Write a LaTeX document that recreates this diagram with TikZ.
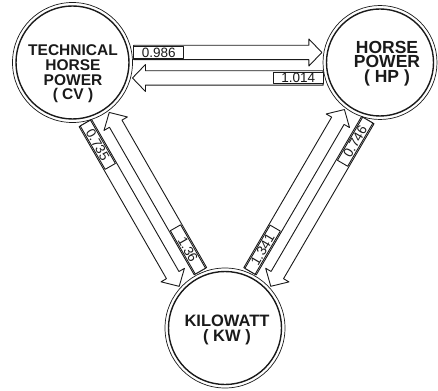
\documentclass[tikz,border=0pt]{standalone}
\usepackage{fontspec}
\setmainfont{Liberation Sans}
\usetikzlibrary{calc, positioning}
\definecolor{inkC}{HTML}{1A1A1A}
\definecolor{paperC}{HTML}{FFFFFF}
\def\lwRing{1.4pt}
\def\lwRingOut{0.7pt}
\def\lwArrow{0.9pt}
\def\ringGap{3.5}
\def\shaftW{7.2}
\def\headW{13.5}
\def\headL{13}
\def\boxL{50}
\def\boxHalf{5.9}
\def\arrGap{2}
% unit circles: centre and outer ring radius
\def\cvX{72.5}  \def\cvY{-62.5} \def\cvR{60}
\def\hpX{380}   \def\hpY{-62.5} \def\hpR{57}
\def\kwX{225}   \def\kwY{-328}  \def\kwR{60}

% block arrow between two units, tag with the factor at its tail
\newcommand{\convarrow}[6]{%
  \pgfmathsetmacro\tailS{sqrt((#3)^2-(#5)^2)+\arrGap}
  \pgfmathsetmacro\tipS{sqrt((#4)^2-(#5)^2)+\arrGap}
  \pgfmathsetmacro\offN{-(#5)}
  \coordinate (t0) at ($(#1.center)!\tailS pt!(#2.center)!#5pt!90:(#2.center)$);
  \coordinate (t1) at ($(#2.center)!\tipS pt!(#1.center)!\offN pt!90:(#1.center)$);
  \coordinate (hb) at ($(t1)!\headL pt!(t0)$);
  \coordinate (be) at ($(t0)!\boxL pt!(t1)$);
  \draw[convarrow]
    ($(t0)!\shaftW pt!-90:(t1)$) -- ($(hb)!\shaftW pt!-90:(t1)$)
    -- ($(hb)!\headW pt!-90:(t1)$) -- (t1)
    -- ($(hb)!\headW pt!90:(t1)$) -- ($(hb)!\shaftW pt!90:(t1)$)
    -- ($(t0)!\shaftW pt!90:(t1)$) -- cycle;
  \draw[convarrow]
    ($(t0)!\boxHalf pt!90:(t1)$) -- ($(be)!\boxHalf pt!90:(t1)$)
    -- ($(be)!\boxHalf pt!-90:(t1)$) -- ($(t0)!\boxHalf pt!-90:(t1)$) -- cycle;
  \path (t0) -- (be) node[midway, sloped, factor] {#6};
}

\begin{document}
\begin{tikzpicture}[x=1pt, y=1pt, line cap=round, line join=round,
    unitring/.style={circle, draw=inkC, line width=\lwRing, inner sep=0pt},
    outring/.style={draw=inkC, line width=\lwRingOut},
    unitname/.style={inkC, align=center, inner sep=0pt},
    convarrow/.style={draw=inkC, line width=\lwArrow, fill=paperC},
    factor/.style={inkC, inner sep=0pt, font=\fontsize{13.5}{13.5}\selectfont}]

  \useasboundingbox[fill=paperC] (0,0) rectangle (438,-390);

  % Units
  \node[unitring, minimum size={2*(\cvR-\ringGap)*1pt}] (cv) at (\cvX, \cvY) {};
  \node[unitring, minimum size={2*(\hpR-\ringGap)*1pt}] (hp) at (\hpX, \hpY) {};
  \node[unitring, minimum size={2*(\kwR-\ringGap)*1pt}] (kw) at (\kwX, \kwY) {};
  \draw[outring] (cv.center) circle (\cvR);
  \draw[outring] (hp.center) circle (\hpR);
  \draw[outring] (kw.center) circle (\kwR);

  \node[unitname, font=\fontsize{15.5}{14.7}\selectfont\bfseries]
    (cvname) at ($(cv.center)+(0.5,-11.5)$) {TECHNICAL\\HORSE\\POWER\\( CV )};
  \node[unitname, font=\fontsize{17.5}{14.5}\selectfont\bfseries]
    (hpname) at ($(hp.center)+(7,-1)$) {HORSE\\POWER\\( HP )};
  \node[unitname, font=\fontsize{16.5}{15}\selectfont\bfseries]
    (kwname) at ($(kw.center)+(2,-2)$) {KILOWATT\\( KW )};

  % Conversion arrows
  \convarrow{cv}{hp}{\cvR}{\hpR}{10}{0.986}
  \convarrow{hp}{cv}{\hpR}{\cvR}{15.5}{1.014}
  \convarrow{cv}{kw}{\cvR}{\kwR}{-19}{0.735}
  \convarrow{kw}{cv}{\kwR}{\cvR}{-7}{1.36}
  \convarrow{hp}{kw}{\hpR}{\kwR}{18.5}{0.746}
  \convarrow{kw}{hp}{\kwR}{\hpR}{7}{1.341}
\end{tikzpicture}
\end{document}
